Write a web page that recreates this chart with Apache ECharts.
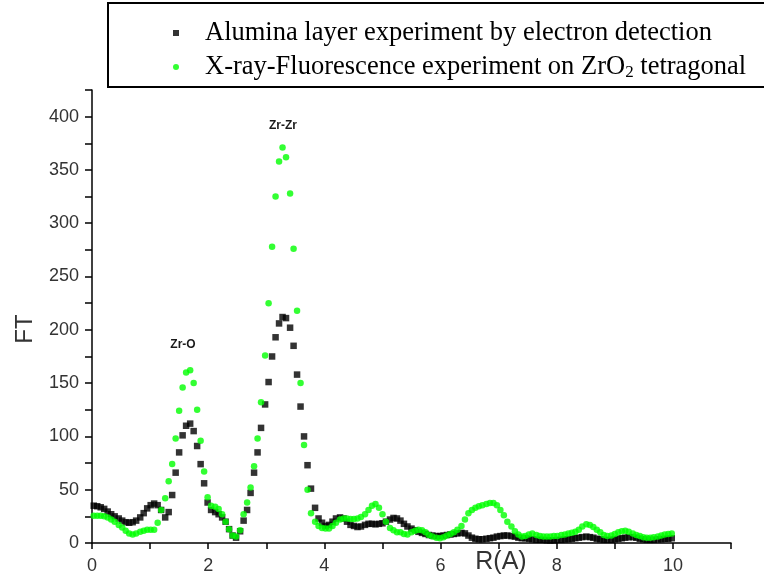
<!DOCTYPE html>
<html>
<head>
<meta charset="utf-8">
<script src="https://cdn.jsdelivr.net/npm/echarts@6/dist/echarts.min.js"></script>
<style>
  html, body { margin: 0; padding: 0; background: #fff; }
  #chart { width: 764px; height: 577px; }
</style>
</head>
<body>
<div id="chart"></div>
<script>
// R grid (Angstrom), shared by both measurements
const rValues = [
  0.03, 0.09, 0.15, 0.21, 0.27, 0.33, 0.39, 0.46, 0.52, 0.58,
  0.64, 0.70, 0.76, 0.83, 0.89, 0.95, 1.01, 1.07, 1.13, 1.19,
  1.26, 1.32, 1.38, 1.44, 1.50, 1.56, 1.62, 1.69, 1.75, 1.81,
  1.87, 1.93, 1.99, 2.05, 2.12, 2.18, 2.24, 2.30, 2.36, 2.42,
  2.48, 2.55, 2.61, 2.67, 2.73, 2.79, 2.85, 2.91, 2.98, 3.04,
  3.10, 3.16, 3.22, 3.28, 3.34, 3.41, 3.47, 3.53, 3.59, 3.65,
  3.71, 3.77, 3.84, 3.90, 3.96, 4.02, 4.08, 4.14, 4.20, 4.27,
  4.33, 4.39, 4.45, 4.51, 4.57, 4.63, 4.70, 4.76, 4.82, 4.88,
  4.94, 5.00, 5.06, 5.13, 5.19, 5.25, 5.31, 5.37, 5.43, 5.50,
  5.56, 5.62, 5.68, 5.74, 5.80, 5.86, 5.93, 5.99, 6.05, 6.11,
  6.17, 6.23, 6.29, 6.36, 6.42, 6.48, 6.54, 6.60, 6.66, 6.72,
  6.79, 6.85, 6.91, 6.97, 7.03, 7.09, 7.15, 7.22, 7.28, 7.34,
  7.40, 7.46, 7.52, 7.58, 7.65, 7.71, 7.77, 7.83, 7.89, 7.95,
  8.01, 8.08, 8.14, 8.20, 8.26, 8.32, 8.38, 8.44, 8.51, 8.57,
  8.63, 8.69, 8.75, 8.81, 8.87, 8.94, 9.00, 9.06, 9.12, 9.18,
  9.24, 9.31, 9.37, 9.43, 9.49, 9.55, 9.61, 9.67, 9.74, 9.80,
  9.86, 9.92, 9.98
];

// black squares: alumina layer, electron detection
const aluminaFT = [
  35, 34.5, 33.5, 32, 29.5, 27, 25, 23, 21, 19.5,
  19, 19.5, 21, 24, 28, 32.5, 35.5, 37, 35.5, 31,
  24, 29, 45, 66, 85, 101, 110, 112, 105, 91,
  74, 56, 38, 31, 29, 27, 24, 20, 13, 7,
  5, 11, 21, 31, 47, 66, 85, 108, 130, 151,
  175, 193, 206, 212, 211, 202, 185, 158, 128, 100,
  73, 51, 33, 23, 19, 16, 17, 20, 23, 24,
  23, 20, 17, 16, 15, 15.5, 17, 18, 18, 17.5,
  18, 18.5, 20, 22, 23.5, 23, 21, 18, 15.5, 13.5,
  12, 10.5, 9.5, 8.5, 7.5, 7, 6.5, 6.5, 7, 7.5,
  8, 8.5, 9, 9.5, 9, 7, 5, 4, 3.5, 3.5,
  4, 4.5, 5, 6, 6.5, 7, 7, 6.5, 6, 5,
  4.5, 4.5, 4, 3.5, 3, 3, 3, 2.5, 2.5, 2.5,
  3, 3, 3.5, 3.5, 4, 4.5, 5, 5.5, 6, 5.5,
  5, 4, 3.5, 3, 3, 3, 3.5, 4, 4.5, 5,
  5.5, 5.5, 5, 4, 3.5, 3, 3, 3, 3.5, 3.5,
  4, 4, 4.5
];

// green dots: X-ray fluorescence, ZrO2 tetragonal
const xrfFT = [
  25.5, 25.5, 25.5, 25, 24, 22, 20, 17, 14.5, 11.5,
  9, 8, 9, 10.5, 11.5, 12.5, 12.5, 12.5, 19, 31,
  42, 58, 74, 98, 124, 146, 160, 162, 150, 125,
  96, 67, 43, 35, 34, 32, 27, 20, 13, 7,
  6, 12, 27, 38, 52, 72, 98, 132, 176, 225,
  278, 325, 358, 371, 362, 328, 276, 218, 150, 92,
  50, 28, 20, 16, 14, 13.5, 13.5, 16, 19, 22,
  23, 23, 22.5, 22.5, 23, 24.5, 27, 31, 35, 36.5,
  33, 27, 20, 14, 12, 10, 10, 8.5, 8, 10,
  11.5, 12.5, 12, 10, 7.5, 6, 5, 4.5, 5.5, 7,
  8.5, 10, 12.5, 16, 22, 28, 31, 33, 34.5, 35.5,
  36.5, 37.5, 37.5, 35.5, 31, 26, 20, 15.5, 11, 8,
  6, 6.5, 8, 9, 7.5, 6.5, 6, 6, 6, 6.5,
  6.5, 7.5, 8, 9, 9.5, 10.5, 12.5, 15.5, 17.5, 17,
  15, 12.5, 10, 7.5, 6.5, 7, 8.5, 10, 11, 11.5,
  10.5, 9, 7.5, 6.5, 5.5, 5, 5, 5.5, 6, 7,
  8, 8.5, 9
];

const seriesNames = [
  'Alumina layer experiment by electron detection',
  'X-ray-Fluorescence experiment on ZrO2 tetragonal'
];
const xTickLabels = [0, 2, 4, 6, 8, 10];
const yTickLabels = [0, 50, 100, 150, 200, 250, 300, 350, 400];

const chart = echarts.init(document.getElementById('chart'));

function pairs(ys) {
  return ys.map((v, i) => [rValues[i], v]);
}

const axisFont = {
  fontFamily: 'Liberation Sans',
  fontSize: 18,
  color: '#333'
};

chart.setOption({
  animation: false,
  backgroundColor: '#fff',
  grid: { left: 92, right: 33, top: 90, bottom: 34 },
  legend: {
    orient: 'vertical',
    left: 173,
    top: 19,
    padding: 0,
    itemGap: 6,
    itemWidth: 6,
    itemHeight: 6,
    data: seriesNames,
    formatter: name => name.replace('ZrO2', 'ZrO{sub|2}'),
    textStyle: {
      fontFamily: 'Liberation Serif',
      fontSize: 26.5,
      lineHeight: 28,
      color: '#000',
      padding: [0, 0, 0, 21],
      rich: {
        sub: {
          fontFamily: 'Liberation Serif',
          fontSize: 17,
          lineHeight: 17,
          verticalAlign: 'bottom',
          color: '#000'
        }
      }
    }
  },
  xAxis: {
    type: 'value',
    min: 0,
    max: 11,
    interval: 1,
    splitLine: { show: false },
    axisLine: { onZero: false, lineStyle: { color: '#000', width: 1.5 } },
    axisTick: { length: 6, lineStyle: { color: '#000', width: 1.5 } },
    axisLabel: Object.assign({
      margin: 14,
      formatter: v => (xTickLabels.indexOf(v) >= 0 ? String(v) : '')
    }, axisFont)
  },
  yAxis: {
    type: 'value',
    min: 0,
    max: 425,
    interval: 25,
    splitLine: { show: false },
    axisLine: { show: true, lineStyle: { color: '#000', width: 1.5 } },
    axisTick: { show: true, length: 7, lineStyle: { color: '#000', width: 1.5 } },
    axisLabel: Object.assign({
      margin: 13,
      formatter: v => (yTickLabels.indexOf(v) >= 0 ? String(v) : '')
    }, axisFont)
  },
  graphic: [
    {
      type: 'rect',
      shape: { x: 108, y: 3, width: 700, height: 84 },
      style: { fill: 'none', stroke: '#000', lineWidth: 2 },
      silent: true
    },
    {
      type: 'text',
      x: 183, y: 345,
      style: { text: 'Zr-O', font: 'bold 12px "Liberation Sans"', fill: '#1a1a1a', align: 'center', verticalAlign: 'middle' }
    },
    {
      type: 'text',
      x: 283, y: 126,
      style: { text: 'Zr-Zr', font: 'bold 12px "Liberation Sans"', fill: '#1a1a1a', align: 'center', verticalAlign: 'middle' }
    },
    {
      type: 'text',
      x: 501, y: 562,
      style: { text: 'R(A)', font: '25px "Liberation Sans"', fill: '#333', align: 'center', verticalAlign: 'middle' }
    },
    {
      type: 'text',
      x: 25, y: 329,
      rotation: Math.PI / 2,
      style: { text: 'FT', font: '24px "Liberation Sans"', fill: '#333', align: 'center', verticalAlign: 'middle' }
    }
  ],
  series: [
    {
      name: seriesNames[0],
      type: 'scatter',
      symbol: 'rect',
      symbolSize: 6.5,
      itemStyle: { color: '#000' },
      data: pairs(aluminaFT)
    },
    {
      name: seriesNames[1],
      type: 'scatter',
      symbol: 'circle',
      symbolSize: 6.5,
      itemStyle: { color: '#00ff00' },
      data: pairs(xrfFT)
    }
  ]
});
</script>
</body>
</html>
